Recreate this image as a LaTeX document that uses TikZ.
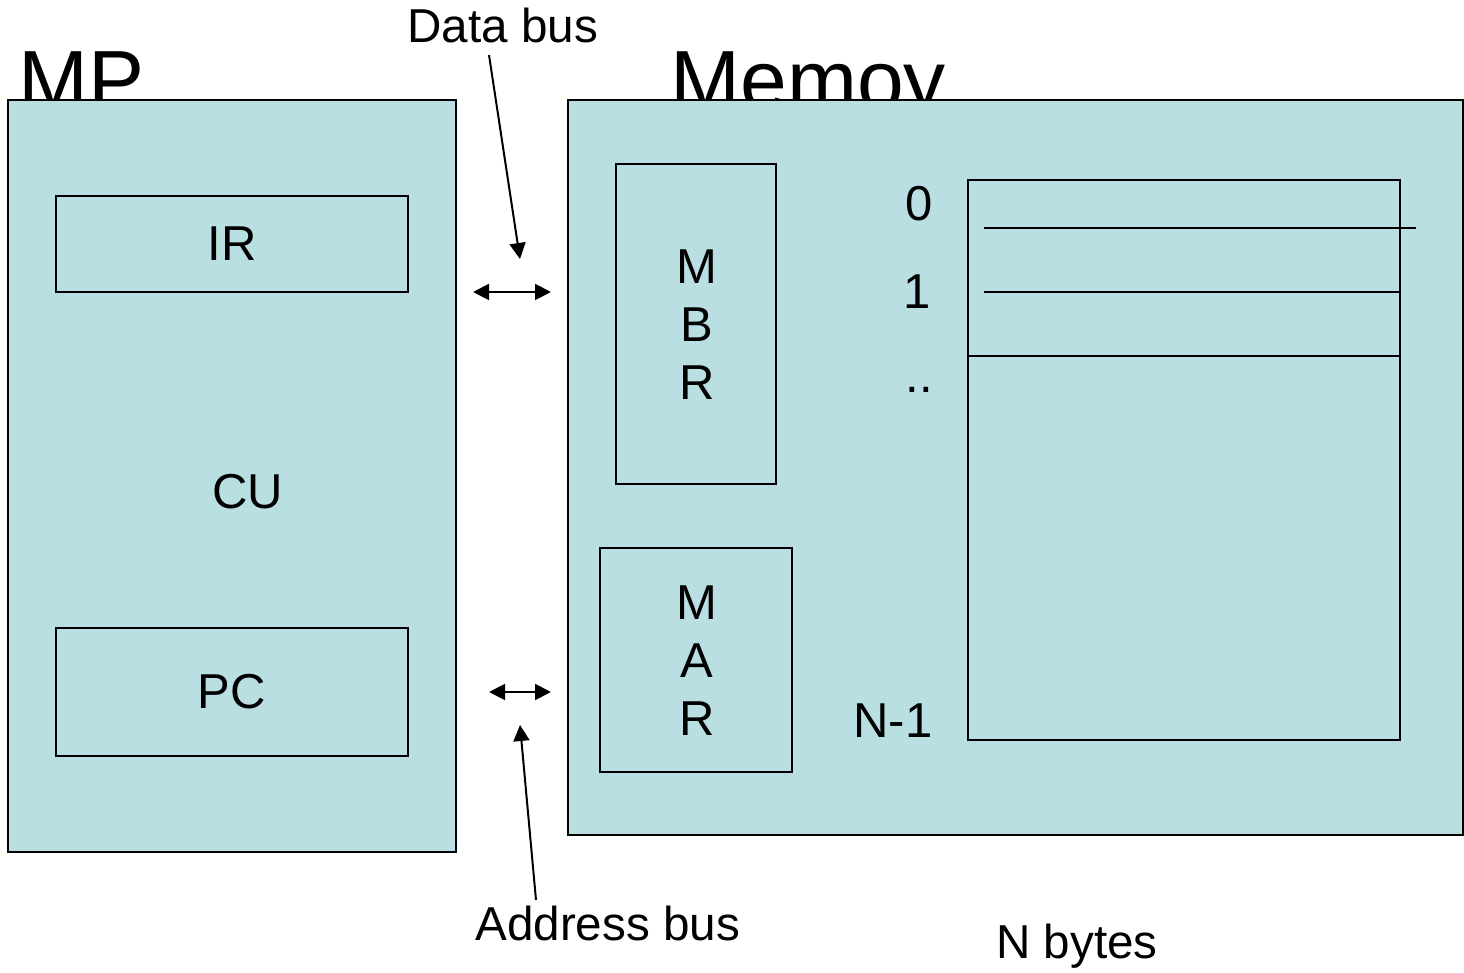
\documentclass[tikz,border=0pt]{standalone}
\usepackage{fontspec}
\setmainfont{Liberation Sans}
\usetikzlibrary{arrows.meta,fit}
\definecolor{panelfill}{RGB}{185,223,227}
\tikzset{
  x=0.5pt, y=-0.5pt,
  panel/.style={draw=black, line width=1pt, fill=panelfill, inner sep=0pt, outer sep=0pt},
  reg/.style={draw=black, line width=1pt, inner sep=0pt, outer sep=0pt},
  title/.style={inner sep=0pt, anchor=base west, font=\fontsize{42pt}{50pt}\selectfont},
  lbl/.style={inner sep=0pt, font=\fontsize{24.5pt}{29pt}\selectfont},
  buslbl/.style={inner sep=0pt, anchor=base west, font=\fontsize{23.8pt}{28pt}\selectfont},
  stack/.style={lbl, align=center, font=\fontsize{24.5pt}{29pt}\selectfont},
  conn/.style={line width=1pt, -{Triangle[length=8pt,width=8pt]}},
  dconn/.style={line width=1pt, {Triangle[length=8pt,width=8pt]}-{Triangle[length=8pt,width=8pt]}},
  rowline/.style={line width=1pt}
}
\begin{document}
\begin{tikzpicture}
\useasboundingbox (0,0) rectangle (1464,973);
% titles (partly covered by the panels)
\node[title] (mptitle) at (18,110) {MP};
\node[title] (memtitle) at (670,110) {Memoy};
% panels
\node[panel, fit={(8,100) (456,852)}] (mp) {};
\node[panel, fit={(568,100) (1463,835)}] (mem) {};
% MP content
\node[reg, fit={(56,196) (408,292)}] (ir) {};
\node[lbl] at (ir.center) {IR};
\node[lbl] (cu) at (248,492) {CU};
\node[reg, fit={(56,628) (408,756)}] (pc) {};
\node[lbl] at (pc.center) {PC};
% Memory content
\node[reg, fit={(616,164) (776,484)}] (mbr) {};
\node[stack] at (697,325) {M\\B\\R};
\node[reg, fit={(600,548) (792,772)}] (mar) {};
\node[stack] at (697,661) {M\\A\\R};
\node[reg, fit={(968,180) (1400,740)}] (arr) {};
\draw[rowline] (984,228) -- (1416,228);
\draw[rowline] (984,292) -- (1400,292);
\draw[rowline] (968,356) -- (1400,356);
\node[lbl] (a0) at (919,204) {0};
\node[lbl] (a1) at (917,292) {1};
\node[lbl, anchor=base] (adots) at (919,393) {..};
\node[lbl] (an) at (893,721) {N-1};
% bus labels
\node[buslbl] (dbus) at (407,43) {Data bus};
\node[buslbl] (abus) at (475,940) {Address bus};
\node[buslbl] (nbytes) at (996,958) {N bytes};
% connectors
\coordinate (dbstart) at (489,55);
\coordinate (dbend) at (520,259);
\coordinate (dl) at (473,292);
\coordinate (dr) at (551,292);
\coordinate (al) at (489,692);
\coordinate (ar) at (551,692);
\coordinate (abstart) at (536,900);
\coordinate (abend) at (520,725);
\draw[conn] (dbstart) -- (dbend);
\draw[dconn] (dl) -- (dr);
\draw[dconn] (al) -- (ar);
\draw[conn] (abstart) -- (abend);
\end{tikzpicture}
\end{document}
